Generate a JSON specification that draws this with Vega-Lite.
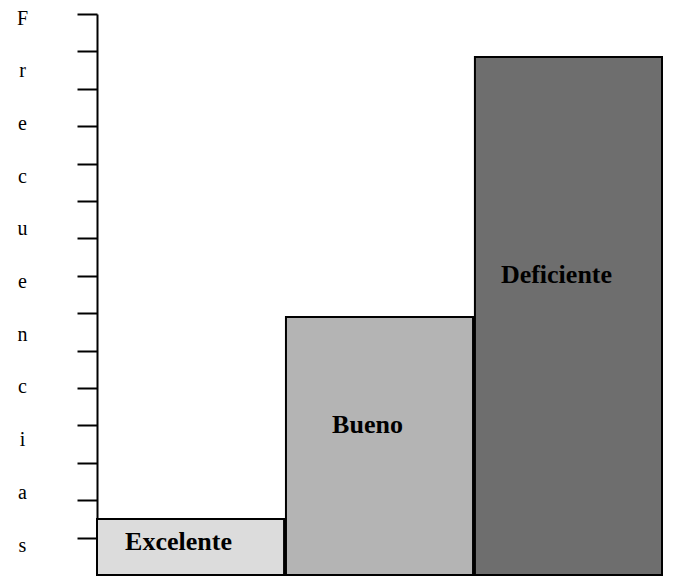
{
  "$schema": "https://vega.github.io/schema/vega-lite/v6.json",
  "autosize": "none",
  "padding": {"left": 97, "top": 14, "right": 26, "bottom": 3},
  "width": 565,
  "height": 561,
  "background": "white",
  "config": {"view": {"stroke": null}},
  "data": {
    "values": [
      {"categoria": "Excelente", "frecuencia": 1.5},
      {"categoria": "Bueno", "frecuencia": 6.9},
      {"categoria": "Deficiente", "frecuencia": 13.85}
    ]
  },
  "transform": [{"calculate": "datum.frecuencia * 0.58", "as": "posEtiqueta"}],
  "encoding": {
    "x": {
      "field": "categoria",
      "type": "nominal",
      "sort": ["Excelente", "Bueno", "Deficiente"],
      "scale": {"paddingInner": 0.01, "paddingOuter": 0},
      "axis": null
    }
  },
  "layer": [
    {
      "mark": {"type": "bar", "stroke": "black", "strokeWidth": 2},
      "encoding": {
        "y": {
          "field": "frecuencia",
          "type": "quantitative",
          "scale": {"domain": [0, 15], "nice": false, "zero": true},
          "axis": {
            "values": [1, 2, 3, 4, 5, 6, 7, 8, 9, 10, 11, 12, 13, 14, 15],
            "labels": false,
            "grid": false,
            "domainColor": "black",
            "domainWidth": 2,
            "tickColor": "black",
            "tickWidth": 2,
            "tickSize": 20,
            "title": ["F", "r", "e", "c", "u", "e", "n", "c", "i", "a", "s"],
            "titleAngle": 0,
            "titleFont": "Liberation Serif",
            "titleFontSize": 20,
            "titleFontWeight": "normal",
            "titleColor": "black",
            "titleLineHeight": 52.7,
            "titleAlign": "center",
            "titleBaseline": "middle",
            "titleX": -75,
            "titleY": 4
          }
        },
        "fill": {
          "field": "categoria",
          "type": "nominal",
          "scale": {
            "domain": ["Excelente", "Bueno", "Deficiente"],
            "range": ["#dcdcdc", "#b4b4b4", "#6e6e6e"]
          },
          "legend": null
        }
      }
    },
    {
      "mark": {
        "type": "text",
        "font": "Liberation Serif",
        "fontSize": 26,
        "fontWeight": "bold",
        "color": "black",
        "baseline": "middle",
        "align": "center",
        "dx": -12
      },
      "encoding": {
        "y": {"field": "posEtiqueta", "type": "quantitative"},
        "text": {"field": "categoria", "type": "nominal"}
      }
    }
  ]
}
